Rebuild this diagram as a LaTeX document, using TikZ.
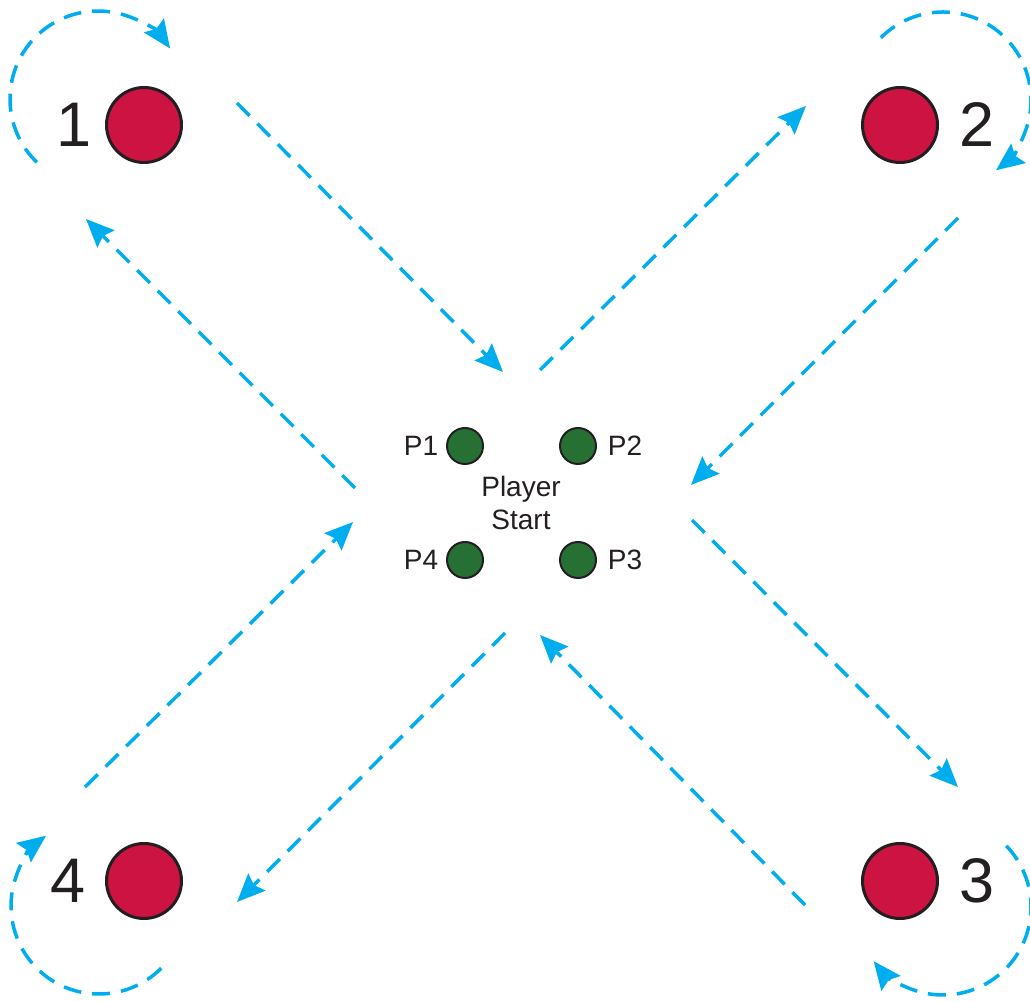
\documentclass[tikz,border=0pt]{standalone}
\usepackage{fontspec}
\setmainfont{Liberation Sans}
\usetikzlibrary{arrows.meta}
\definecolor{skyblue}{RGB}{0,174,239}
\definecolor{crimson}{RGB}{204,19,65}
\definecolor{pgreen}{RGB}{38,112,52}
\definecolor{ink}{RGB}{35,31,32}
\tikzset{
  flow/.style={draw=skyblue, line width=3.5pt, dash pattern=on 18pt off 11pt,
    -{Stealth[length=28pt,width=24pt,inset=4pt]}},
  station/.style={circle, draw=ink, fill=crimson, line width=3pt, minimum size=75pt, inner sep=0pt},
  player/.style={circle, draw=ink, fill=pgreen, line width=2pt, minimum size=36pt, inner sep=0pt},
  num/.style={font=\fontsize{63}{76}\selectfont, text=ink, inner sep=0pt},
  tag/.style={font=\fontsize{28}{33}\selectfont, text=ink, inner sep=0pt, align=center}
}
\begin{document}
\begin{tikzpicture}[x=1pt,y=1pt]
\path[use as bounding box, fill=white] (0,0) rectangle (1030,1001);
\node[station] (s1) at (144,876) {};
\node[station] (s2) at (900,876) {};
\node[station] (s3) at (900,120) {};
\node[station] (s4) at (144,120) {};
\node[num] (l1) at (74,876) {1};
\node[num] (l2) at (977,876) {2};
\node[num] (l3) at (977,120) {3};
\node[num] (l4) at (68,120) {4};
\node[player] (p1) at (465,555) {};
\node[player] (p2) at (578,555) {};
\node[player] (p3) at (578,441) {};
\node[player] (p4) at (465,441) {};
\node[tag] (t1) at (421,555) {P1};
\node[tag] (t2) at (625,555) {P2};
\node[tag] (t3) at (625,441) {P3};
\node[tag] (t4) at (421,441) {P4};
\node[tag] (start) at (521,498) {Player\\Start};
\coordinate (a1) at (237,898); \coordinate (b1) at (503,629);
\coordinate (a2) at (355,513); \coordinate (b2) at (86,782);
\coordinate (a3) at (540,631); \coordinate (b3) at (806,895);
\coordinate (a4) at (958,783); \coordinate (b4) at (691,516);
\coordinate (a5) at (692,481); \coordinate (b5) at (958,214);
\coordinate (a6) at (805,96);  \coordinate (b6) at (540,366);
\coordinate (a7) at (85,214);  \coordinate (b7) at (353,479);
\coordinate (a8) at (505,368); \coordinate (b8) at (237,99);
\draw[flow] (a1) -- (b1);
\draw[flow] (a2) -- (b2);
\draw[flow] (a3) -- (b3);
\draw[flow] (a4) -- (b4);
\draw[flow] (a5) -- (b5);
\draw[flow] (a6) -- (b6);
\draw[flow] (a7) -- (b7);
\draw[flow] (a8) -- (b8);
\coordinate (c1) at (98,902);
\coordinate (c2) at (943,901);
\coordinate (c3) at (943,94);
\coordinate (c4) at (99,95);
\draw[flow] (c1) ++(226:88pt) arc[start angle=226, end angle=35, radius=88pt];
\draw[flow] (c2) ++(135:88pt) arc[start angle=135, end angle=-53, radius=88pt];
\draw[flow] (c3) ++(44:88pt) arc[start angle=44, end angle=-142, radius=88pt];
\draw[flow] (c4) ++(-45:88pt) arc[start angle=-45, end angle=-233, radius=88pt];
\end{tikzpicture}
\end{document}
